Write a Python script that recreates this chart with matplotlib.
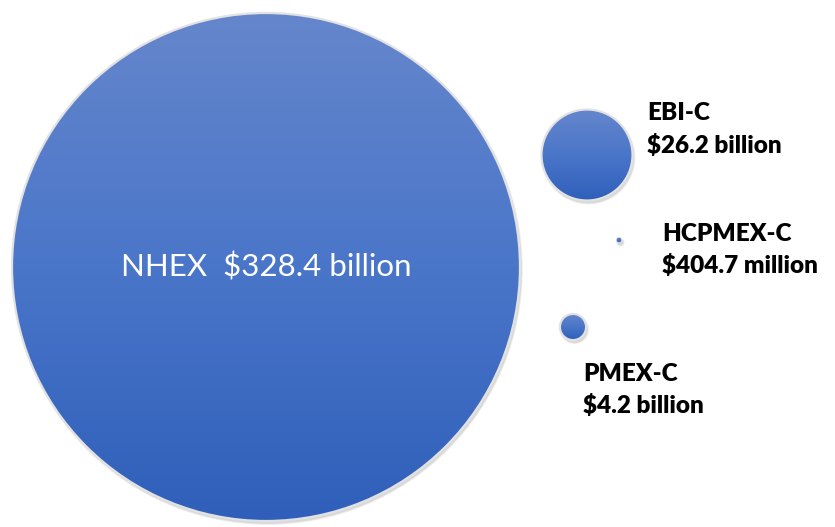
import numpy as np
import matplotlib.pyplot as plt
from matplotlib.patches import Circle
from matplotlib.colors import LinearSegmentedColormap

# expenditure by program, in billions of dollars
programs = ["NHEX", "EBI-C", "HCPMEX-C", "PMEX-C"]
spend_bn = [328.4, 26.2, 0.4047, 4.2]
value_text = ["$328.4 billion", "$26.2 billion", "$404.7 million", "$4.2 billion"]

# layout (pixel-like coordinates, y grows downward)
centers = [(266, 267), (587, 155), (619, 240), (573, 327)]
label_pos = [None, (647, 113), (662, 234), (583, 374)]
r_max = 254
exponent = 0.68

plt.rcParams["font.family"] = ["Lato", "DejaVu Sans"]

fig = plt.figure(figsize=(8.35, 5.27), dpi=100)
ax = fig.add_axes([0, 0, 1, 1])
ax.set_xlim(0, 835)
ax.set_ylim(527, 0)
ax.set_aspect("equal")
ax.axis("off")

blues = LinearSegmentedColormap.from_list("blues", ["#6586cc", "#4a76c9", "#2f5fba"])
grad = np.linspace(0, 1, 256).reshape(-1, 1)

for name, val, txt, (cx, cy), lp in zip(programs, spend_bn, value_text, centers, label_pos):
    r = r_max * (val / max(spend_bn)) ** exponent
    # soft shadow underneath
    for k in range(4):
        ax.add_patch(Circle((cx + 1.5, cy + 2.5), r + 1.5 - k * 0.5,
                            facecolor="#000000", alpha=0.04, edgecolor="none", zorder=1))
    # thin rim, kept thinner on very small bubbles
    disk = Circle((cx, cy), r, facecolor="none", edgecolor="#e2e2e2",
                  lw=min(1.6, r * 0.2), zorder=3)
    ax.add_patch(disk)
    im = ax.imshow(grad, cmap=blues, extent=(cx - r, cx + r, cy + r, cy - r),
                   aspect="auto", zorder=2, interpolation="bilinear")
    im.set_clip_path(disk)
    if lp is None:
        ax.text(cx, cy, name + "  " + txt, color="white", fontsize=22.5,
                ha="center", va="center", zorder=4)
    else:
        ax.text(lp[0], lp[1], name, fontsize=17.5, fontweight="heavy",
                ha="left", va="center", color="black")
        ax.text(lp[0], lp[1] + 32, txt, fontsize=17.5, fontweight="heavy",
                ha="left", va="center", color="black")

ax.set_xlim(0, 835)
ax.set_ylim(527, 0)
fig.savefig("out.png", dpi=100)
